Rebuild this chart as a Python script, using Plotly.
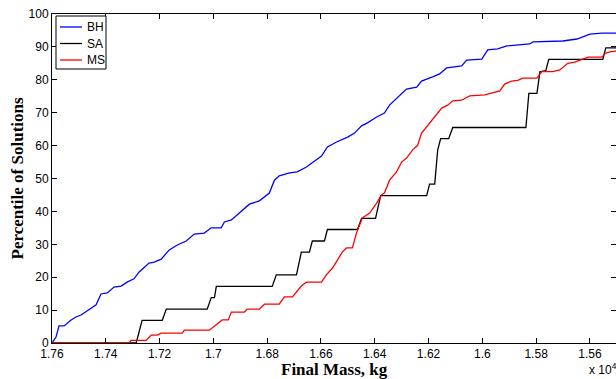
import plotly.graph_objects as go

# ---- data (Final mass in kg, percentile of solutions) ----
bh_mass = [17600, 17585, 17574, 17555, 17529, 17511, 17492, 17481, 17462, 17436,
           17418, 17395, 17369, 17343, 17321, 17295, 17276, 17257, 17239, 17220,
           17194, 17164, 17134, 17101, 17071, 17034, 17008, 16971, 16959, 16933,
           16904, 16885, 16866, 16829, 16792, 16773, 16755, 16717, 16688, 16654,
           16635, 16598, 16576, 16542, 16501, 16475, 16449, 16427, 16393, 16364,
           16345, 16308, 16282, 16244, 16226, 16185, 16159, 16133, 16077, 16058,
           16002, 15980, 15943, 15909, 15872, 15824, 15812, 15701, 15648, 15600,
           15555, 15470]
bh_pct = [0, 1.8, 5.2, 5.2, 7.0, 7.9, 8.5, 9.1, 10.0, 11.6,
          14.9, 15.2, 17.0, 17.3, 18.5, 19.5, 21.6, 23.1, 24.3, 24.6,
          25.5, 28.3, 29.8, 31.0, 33.1, 33.4, 35.0, 35.0, 36.8, 37.4,
          39.5, 40.7, 42.2, 43.2, 45.6, 49.5, 50.8, 51.7, 52.0, 53.5,
          54.7, 56.8, 59.6, 61.1, 62.6, 63.8, 66.0, 66.9, 68.7, 69.9,
          72.3, 75.1, 77.2, 77.8, 79.6, 80.9, 81.8, 83.6, 84.2, 86.0,
          86.3, 89.1, 89.4, 90.3, 90.6, 90.9, 91.5, 91.8, 92.4, 93.9,
          94.2, 94.2]

sa_mass = [17600, 17287, 17265, 17190, 17175, 17023, 17008, 16996, 16989, 16781,
           16766, 16691, 16673, 16643, 16632, 16587, 16576, 16464, 16449, 16397,
           16378, 16207, 16196, 16177, 16166, 16155, 16125, 16110, 15838, 15827,
           15797, 15786, 15764, 15753, 15552, 15541, 15470]
sa_pct = [0, 0, 6.9, 6.9, 10.3, 10.3, 13.8, 13.8, 17.2, 17.2,
          20.7, 20.7, 27.6, 27.6, 31.0, 31.0, 34.5, 34.5, 37.9, 37.9,
          44.8, 44.8, 48.3, 48.3, 58.6, 62.1, 62.1, 65.5, 65.5, 75.9,
          75.9, 82.4, 82.8, 86.2, 86.2, 89.7, 89.7]

ms_mass = [17600, 17313, 17306, 17250, 17231, 17209, 17194, 17116, 17108, 17015,
           16967, 16945, 16933, 16885, 16874, 16829, 16810, 16755, 16736, 16706,
           16673, 16654, 16598, 16580, 16557, 16520, 16505, 16483, 16468, 16446,
           16419, 16393, 16375, 16364, 16345, 16319, 16300, 16282, 16259, 16241,
           16226, 16207, 16177, 16151, 16129, 16110, 16077, 16058, 16047, 15991,
           15965, 15935, 15917, 15891, 15868, 15850, 15797, 15779, 15738, 15712,
           15682, 15656, 15637, 15607, 15555, 15544, 15526, 15503, 15470]
ms_pct = [0, 0, 0.8, 0.8, 2.4, 2.4, 3.0, 3.0, 3.9, 3.9,
          7.0, 7.0, 9.4, 9.4, 10.3, 10.3, 11.8, 11.8, 14.0, 14.0,
          17.3, 18.5, 18.5, 20.7, 22.8, 27.7, 28.9, 28.9, 33.4, 38.0,
          39.5, 42.5, 45.0, 45.6, 49.5, 52.0, 55.0, 56.2, 58.7, 60.0,
          63.8, 65.7, 68.7, 71.4, 72.3, 73.6, 73.8, 74.5, 75.1, 75.4,
          76.0, 76.6, 78.7, 79.6, 79.8, 80.5, 80.5, 82.5, 82.5, 83.0,
          85.0, 85.4, 86.0, 86.9, 86.9, 88.0, 88.5, 88.8, 89.0]

x_tick_vals = [17600, 17400, 17200, 17000, 16800, 16600, 16400, 16200, 16000, 15800, 15600]
x_tick_text = ["1.76", "1.74", "1.72", "1.7", "1.68", "1.66", "1.64", "1.62", "1.6", "1.58", "1.56"]
y_tick_vals = [0, 10, 20, 30, 40, 50, 60, 70, 80, 90, 100]

series = [("BH", bh_mass, bh_pct, "#0000ff"),
          ("SA", sa_mass, sa_pct, "#000000"),
          ("MS", ms_mass, ms_pct, "#ff0000")]

W, H = 616, 379
ML, MT, MB = 52, 14, 36
PW, PH = W - ML, H - MT - MB


def px_x(p):  # figure pixel -> paper x
    return (p - ML) / PW


def px_y(p):  # figure pixel -> paper y
    return (H - MB - p) / PH


fig = go.Figure()
for name, xs, ys, col in series:
    fig.add_trace(go.Scatter(x=xs, y=ys, mode="lines", name=name,
                             line=dict(color=col, width=1.3), showlegend=False))

tickfont = dict(family="Liberation Sans, Arial, sans-serif", size=12, color="#000")
titlefont = dict(family="Liberation Serif, Times New Roman, serif", size=17, color="#000")

fig.update_layout(
    width=W, height=H,
    margin=dict(l=ML, r=0, t=MT, b=MB, autoexpand=False),
    paper_bgcolor="white", plot_bgcolor="white",
    showlegend=False,
    xaxis=dict(range=[17600, 15503], tickmode="array", tickvals=x_tick_vals,
               ticktext=x_tick_text, ticks="inside", ticklen=5, tickcolor="#000",
               showline=True, linecolor="#000", linewidth=1, mirror="ticks",
               showgrid=False, zeroline=False, tickfont=tickfont),
    yaxis=dict(range=[0, 100], tickmode="array", tickvals=y_tick_vals,
               ticks="inside", ticklen=5, tickcolor="#000",
               showline=True, linecolor="#000", linewidth=1, mirror="ticks",
               showgrid=False, zeroline=False, tickfont=tickfont),
)

# axis titles
fig.add_annotation(text="<b>Final Mass, kg</b>", xref="paper", yref="paper",
                   x=0.5, y=px_y(369), xanchor="center", yanchor="middle",
                   showarrow=False, font=titlefont)
fig.add_annotation(text="<b>Percentile of Solutions</b>", xref="paper", yref="paper",
                   x=px_x(17), y=0.5, xanchor="center", yanchor="middle",
                   textangle=-90, showarrow=False, font=titlefont)
fig.add_annotation(text="x 10<sup>4</sup>", xref="paper", yref="paper",
                   x=px_x(587), y=px_y(369), xanchor="left", yanchor="middle",
                   showarrow=False, font=tickfont)

# legend box (MATLAB style)
fig.add_shape(type="rect", xref="paper", yref="paper",
              x0=px_x(56), x1=px_x(106), y0=px_y(69), y1=px_y(16),
              line=dict(color="#000", width=1), fillcolor="white", layer="above")
for i, (name, xs, ys, col) in enumerate(series):
    yy = px_y(27 + i * 16.5)
    fig.add_shape(type="line", xref="paper", yref="paper",
                  x0=px_x(60), x1=px_x(82), y0=yy, y1=yy,
                  line=dict(color=col, width=1.3), layer="above")
    fig.add_annotation(text=name, xref="paper", yref="paper",
                       x=px_x(85), y=yy, xanchor="left", yanchor="middle",
                       showarrow=False, font=tickfont)

fig.write_html("out.html",
               config={"displayModeBar": False},
               post_script="document.body.style.margin='0';document.body.style.overflow='hidden';")
